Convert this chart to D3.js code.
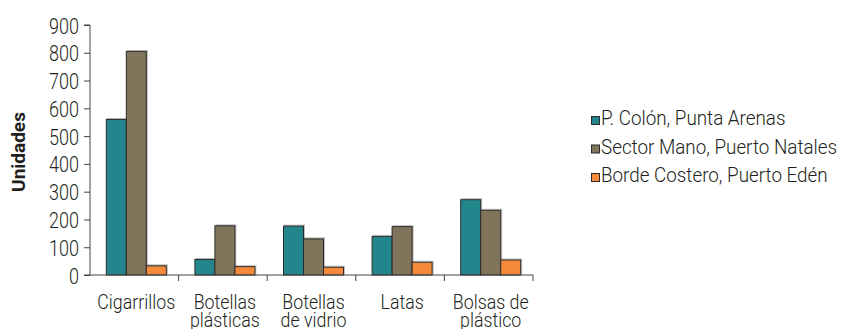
<!DOCTYPE html>
<html>
<head>
<meta charset="utf-8">
<script src="https://cdn.jsdelivr.net/npm/d3@7/dist/d3.min.js"></script>
<style>
  html, body { margin: 0; padding: 0; background: #fff; }
  svg text { font-family: Roboto, "Liberation Sans", sans-serif; font-weight: 300; fill: #231f20; }
  /* narrow the glyphs around their anchor point */
  .nar-end { transform-box: fill-box; transform-origin: right center; transform: scaleX(0.8); }
  .nar-mid { transform-box: fill-box; transform-origin: center center; transform: scaleX(0.86); }
  .nar-start { transform-box: fill-box; transform-origin: left center; transform: scaleX(0.91); }
</style>
</head>
<body>
<svg id="chart" width="842" height="329"></svg>
<script>
// Residues counted per site (units)
const categories = [["Cigarrillos"], ["Botellas", "plásticas"], ["Botellas", "de vidrio"], ["Latas"], ["Bolsas de", "plástico"]];
const seriesNames = ["P. Colón, Punta Arenas", "Sector Mano, Puerto Natales", "Borde Costero, Puerto Edén"];
const colonValues = [560, 56, 176, 139, 271];
const manoValues = [805, 177, 130, 174, 233];
const edenValues = [33, 30, 28, 46, 54];
const yTicks = [0, 100, 200, 300, 400, 500, 600, 700, 800, 900];
const colors = ["#22868c", "#80745a", "#f58a3a"];

const series = [colonValues, manoValues, edenValues];
const svg = d3.select("#chart");

const mLeft = 90, mRight = 533, mTop = 25, mBottom = 275;
const catKeys = categories.map((c, i) => i);

const x = d3.scaleBand().domain(catKeys).range([mLeft, mRight]).paddingInner(0).paddingOuter(0);
const inner = d3.scaleBand().domain([0, 1, 2]).range([0, 60]);
const y = d3.scaleLinear().domain([0, 900]).range([mBottom, mTop]);

// bars with a soft drop shadow
const defs = svg.append("defs");
const f = defs.append("filter").attr("id", "shadow").attr("x", "-20%").attr("y", "-20%").attr("width", "140%").attr("height", "140%");
f.append("feDropShadow").attr("dx", 1).attr("dy", -1).attr("stdDeviation", 0.6).attr("flood-color", "#000").attr("flood-opacity", 0.25);

const groups = svg.append("g").selectAll("g").data(catKeys).join("g")
  .attr("transform", d => `translate(${x(d) + (x.bandwidth() - 60) / 2 + 2},0)`);

groups.selectAll("rect").data(d => series.map((s, k) => ({ k, v: s[d] }))).join("rect")
  .attr("x", d => inner(d.k))
  .attr("y", d => y(d.v))
  .attr("width", inner.bandwidth())
  .attr("height", d => y(0) - y(d.v))
  .attr("fill", d => colors[d.k])
  .attr("stroke", "#2b2b2b")
  .attr("stroke-width", 1)
  .attr("filter", "url(#shadow)");

// y axis
const yAxis = d3.axisLeft(y).tickValues(yTicks).tickSize(6).tickPadding(5);
const gy = svg.append("g").attr("transform", `translate(${mLeft},0)`).call(yAxis);
gy.attr("font-family", null).attr("font-size", null);
gy.select(".domain").attr("stroke", "#444").attr("d", `M-6,${mTop}H0V${mBottom}`);
gy.selectAll(".tick line").attr("stroke", "#444");
gy.selectAll(".tick text").attr("font-size", 22.5).attr("fill", "#231f20").attr("dy", "0.36em")
  .attr("class", "nar-end");

// x axis: ticks at category boundaries
const boundaries = catKeys.map(d => x(d)).concat([mRight]);
const gx = svg.append("g");
gx.append("line").attr("x1", mLeft - 6).attr("x2", mRight).attr("y1", mBottom).attr("y2", mBottom).attr("stroke", "#444");
gx.selectAll("line.tk").data(boundaries.slice(1)).join("line").attr("class", "tk")
  .attr("x1", d => d).attr("x2", d => d).attr("y1", mBottom).attr("y2", mBottom + 6).attr("stroke", "#444");

const labels = svg.append("g").selectAll("text").data(catKeys).join("text")
  .attr("class", "nar-mid")
  .attr("x", d => x(d) + x.bandwidth() / 2 + 2)
  .attr("y", 309)
  .attr("text-anchor", "middle")
  .attr("font-size", 20.7);
labels.selectAll("tspan").data(d => categories[d]).join("tspan")
  .attr("x", function () { return d3.select(this.parentNode).attr("x"); })
  .attr("dy", (d, i) => i === 0 ? 0 : 18)
  .text(d => d);

// y axis title
svg.append("text")
  .attr("transform", "translate(25,152) rotate(-90)")
  .attr("text-anchor", "middle")
  .attr("font-size", 19)
  .style("font-weight", 700)
  .text("Unidades");

// legend
const legend = svg.append("g").selectAll("g").data(seriesNames).join("g")
  .attr("transform", (d, i) => `translate(591,${125 + i * 28.5})`);
legend.append("rect").attr("x", 0.5).attr("y", -8.5).attr("width", 8).attr("height", 8)
  .attr("fill", (d, i) => colors[i]).attr("stroke", "#2b2b2b").attr("stroke-width", 1);
legend.append("text").attr("class", "nar-start").attr("x", 10).attr("y", 0).attr("font-size", 20.7).text(d => d);
</script>
</body>
</html>
